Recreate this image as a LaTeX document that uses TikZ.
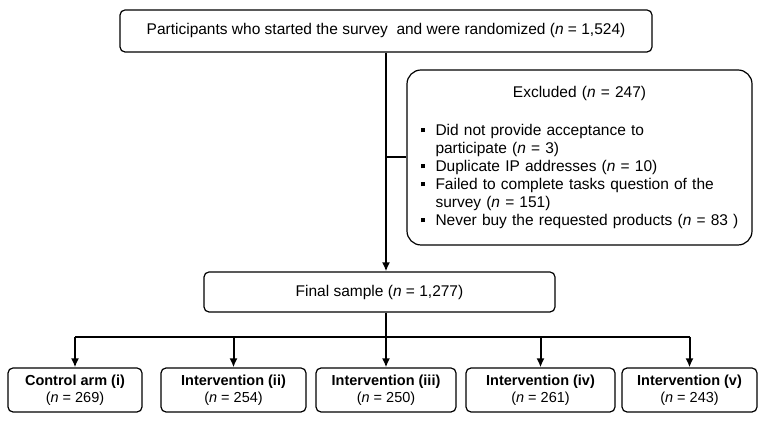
\documentclass[tikz,border=0pt]{standalone}
\usepackage{fontspec}
\setmainfont{Liberation Sans}
\usetikzlibrary{arrows.meta,shapes,positioning}

\tikzset{
  box/.style={draw, rectangle, rounded corners=5pt, line width=1.2pt, align=center, font=\fontsize{15.5}{18}\selectfont},
  armbox/.style={box, minimum height=44pt, font=\fontsize{14.5}{17}\selectfont},
  link/.style={line width=2pt},
  arrow/.style={link, -{Latex[length=9pt,width=8pt]}}
}
\newcommand{\bul}{\makebox[15pt][l]{\raisebox{3pt}{\rule{4.5pt}{4.5pt}}}}
\newcommand{\cont}{\hspace*{15pt}}

\begin{document}
\begin{tikzpicture}[x=1pt, y=1pt]
        \useasboundingbox (0,0) rectangle (765,430);
        \node[box, minimum width=532pt, minimum height=42pt] (start) at (386,399) {Participants who started the survey\ \ and were randomized (\textit{n} = 1,524)};
        \node[box, rounded corners=14pt, minimum width=345pt, minimum height=175pt, text width=318pt, align=left] (excl) at (579.5,272.5) {%
          {\centering Excluded (\textit{n} = 247)\par}\vspace{20pt}
          \bul Did not provide acceptance to\\
          \cont participate (\textit{n} = 3)\\
          \bul Duplicate IP addresses (\textit{n} = 10)\\
          \bul Failed to complete tasks question of the\\
          \cont survey\ (\textit{n} = 151)\\
          \bul Never buy the requested products (\textit{n} = 83 )};
        \node[box, minimum width=351pt, minimum height=40pt] (final) at (379.5,138) {Final sample (\textit{n} = 1,277)};

        \node[armbox, minimum width=134pt] (arm1) at (75,40) {\textbf{Control arm\ (i)}\\(\textit{n} = 269)};
        \node[armbox, minimum width=145pt] (arm2) at (233.5,40) {\textbf{Intervention (ii)}\\(\textit{n} = 254)};
        \node[armbox, minimum width=140pt] (arm3) at (386,40) {\textbf{Intervention (iii)}\\(\textit{n} = 250)};
        \node[armbox, minimum width=149pt] (arm4) at (540.5,40) {\textbf{Intervention (iv)}\\(\textit{n} = 261)};
        \node[armbox, minimum width=135pt] (arm5) at (689.5,40) {\textbf{Intervention (v)}\\(\textit{n} = 243)};
        \coordinate (split) at (386,93);

        \draw[arrow] (start.south) -- (start.south |- final.north);
        \draw[link] (start.south |- excl.west) -- (excl.west);
        \draw[link] (final.south -| split) -- (split);
        \draw[link] (arm1.north |- split) -- (arm5.north |- split);
        \foreach \i in {1,...,5}
            \draw[arrow] (arm\i.north |- split) -- (arm\i.north);
    \end{tikzpicture}
\end{document}
